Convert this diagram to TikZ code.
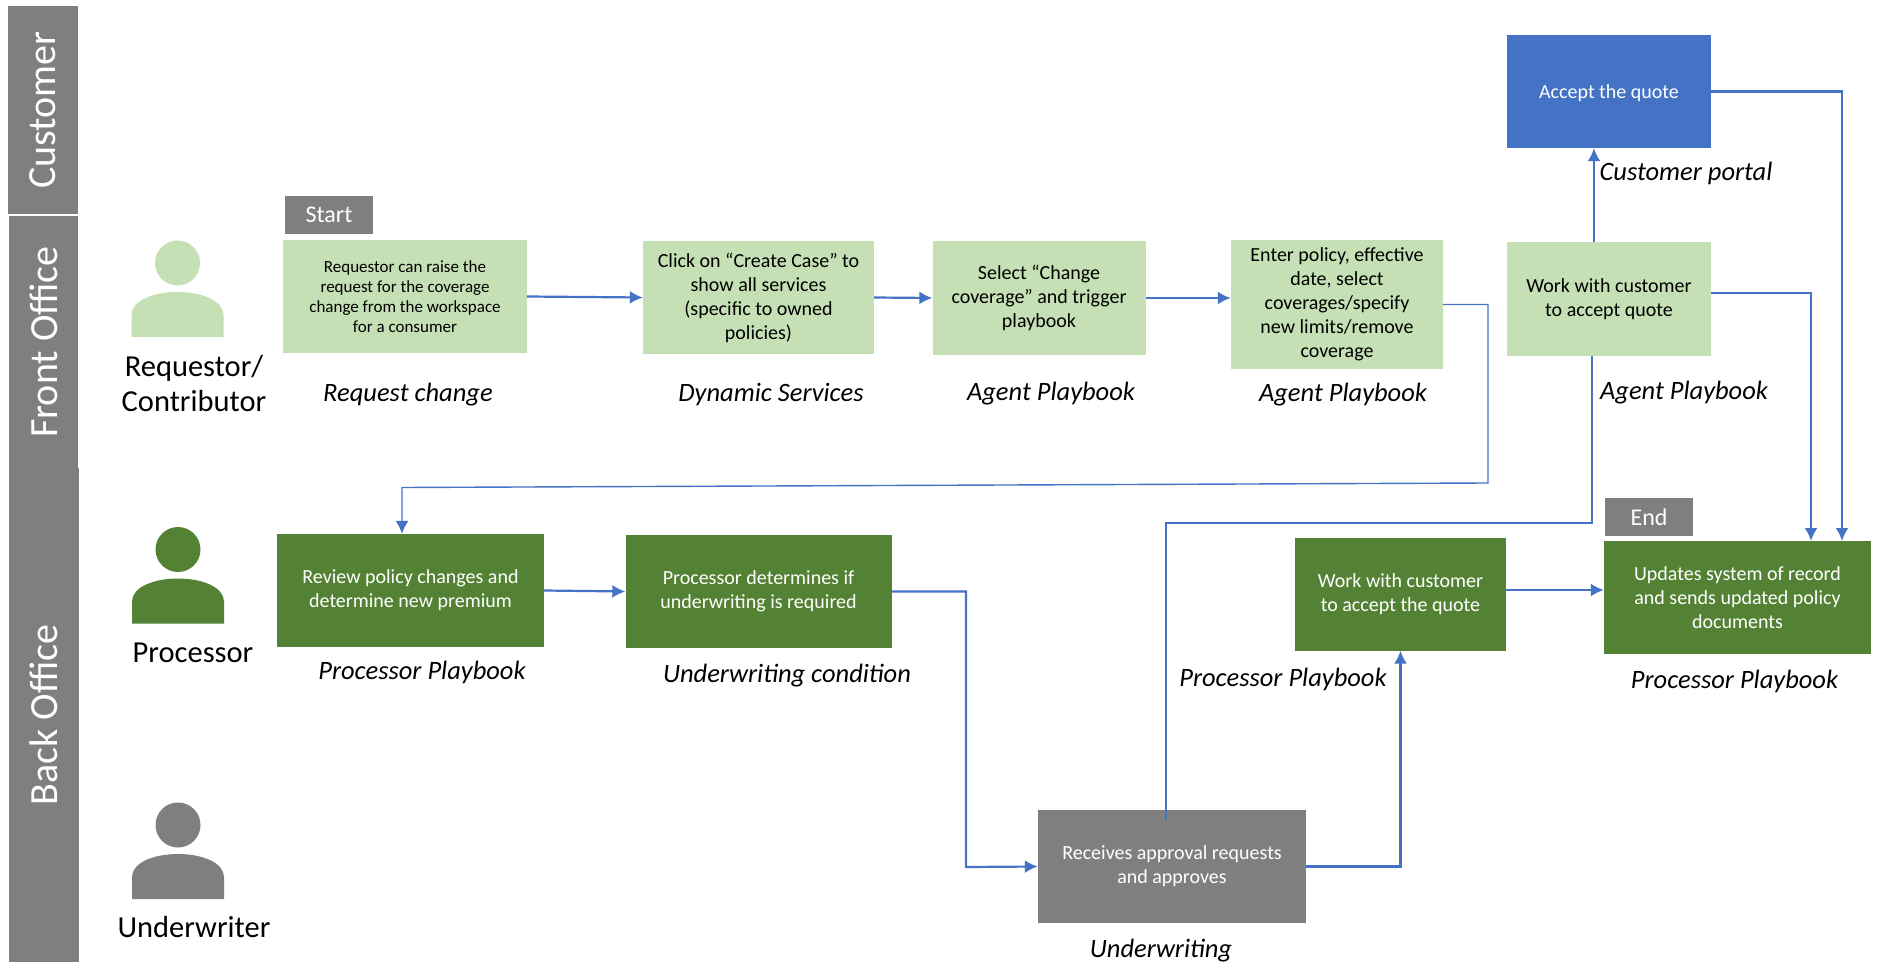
\documentclass[tikz,border=0pt]{standalone}
\usepackage{fontspec}
\setmainfont{Carlito}
\usepackage{tikz}
\usetikzlibrary{arrows.meta}

\definecolor{lightgrn}{HTML}{C5E0B4}
\definecolor{darkgrn}{HTML}{548235}
\definecolor{midgray}{HTML}{7F7F7F}
\definecolor{linkblue}{HTML}{4472C4}

\tikzset{
  band/.style={shape=rectangle,fill=midgray,text=white,rotate=90,inner sep=0pt,
    font=\fontsize{40}{48}\selectfont},
  tag/.style={shape=rectangle,fill=midgray,text=white,inner sep=0pt,
    minimum width=88pt,minimum height=38pt,font=\fontsize{24}{28}\selectfont},
  box/.style={shape=rectangle,inner sep=0pt,align=center,minimum height=113pt,
    font=\fontsize{20}{24}\selectfont},
  lowered/.style={execute at begin node={\rule{0pt}{21pt}}},
  front/.style={box,lowered,fill=lightgrn,text=black},
  back/.style={box,lowered,fill=darkgrn,text=white},
  under/.style={box,lowered,fill=midgray,text=white},
  role/.style={align=center,inner sep=0pt,font=\fontsize{30.5}{35}\selectfont},
  tool/.style={inner sep=0pt,font=\fontsize{26.5}{30}\selectfont\itshape},
  link/.style={draw=linkblue,line width=2.2pt,>={Latex[length=13pt,width=13pt]}},
  thinlink/.style={link,line width=1.4pt}
}

\begin{document}
\begin{tikzpicture}[x=1pt,y=-1pt]
      \useasboundingbox (0,0) rectangle (1882,968);

      \node[band,minimum width=208pt,minimum height=70pt](Customer) at (43,110) {Customer};
      \node[band,minimum width=252pt,minimum height=69pt](FrontOffice) at (43.5,342) {Front Office};
      \node[band,minimum width=494pt,minimum height=70pt](BackOffice) at (44,715) {Back Office};

      % people
      \foreach \px/\py/\pcol in {177.5/263/lightgrn,178/549.5/darkgrn,178/825/midgray} {
        \fill[\pcol] (\px,\py) circle (22.5);
        \fill[\pcol] (\px-46,\py+74) -- (\px-46,\py+52)
          .. controls (\px-46,\py+38) and (\px-25,\py+29) .. (\px,\py+29)
          .. controls (\px+25,\py+29) and (\px+46,\py+38) .. (\px+46,\py+52)
          -- (\px+46,\py+74) -- cycle;
      }
      \node[role](Requestor) at (194,384) {Requestor/\\Contributor};
      \node[role](Processor) at (193,653) {Processor};
      \node[role](Underwriter) at (194,927) {Underwriter};

      \node[tag](Start) at (329,215) {Start};
      \node[tag](End) at (1649,517) {End};

      \node[box,fill=lightgrn,minimum width=244pt,font=\fontsize{17}{20}\selectfont](Req) at (405,296.5) {Requestor can raise the\\request for the coverage\\change from the workspace\\for a consumer};
      \node[front,minimum width=231pt](Create) at (758.5,297.5) {Click on “Create Case” to\\show all services\\(specific to owned\\policies)};
      \node[front,minimum width=213pt](Select) at (1039,298) {Select “Change\\coverage” and trigger\\playbook};
      \node[front,minimum width=212pt,minimum height=129pt](Enter) at (1337,304.5) {Enter policy, effective\\date, select\\coverages/specify\\new limits/remove\\coverage};
      \node[front,minimum width=204pt](Work) at (1609,299) {Work with customer\\to accept quote};
      \node[box,fill=linkblue,text=white,minimum width=204pt,execute at begin node={\rule{0pt}{18pt}}](Accept) at (1609,91.5) {Accept the quote};
      \node[back,minimum width=267pt](Review) at (410.5,590.5) {Review policy changes and\\determine new premium};
      \node[back,minimum width=266pt](Determine) at (758.5,591.5) {Processor determines if\\underwriting is required};
      \node[under,minimum width=268pt](Receives) at (1172,866.5) {Receives approval requests\\and approves};
      \node[back,minimum width=211pt](WorkQuote) at (1400.5,594) {Work with customer\\to accept the quote};
      \node[box,fill=darkgrn,text=white,minimum width=267pt](Updates) at (1737.5,597.5) {Updates system of record\\and sends updated policy\\documents};

      \node[tool](t1) at (408,394.5) {Request change};
      \node[tool](t2) at (771,394.5) {Dynamic Services};
      \node[tool](t3) at (1051,393.5) {Agent Playbook};
      \node[tool](t4) at (1343,394.5) {Agent Playbook};
      \node[tool](t5) at (1684,392.5) {Agent Playbook};
      \node[tool](t6) at (1686,173.5) {Customer portal};
      \node[tool](t7) at (422,672) {Processor Playbook};
      \node[tool](t8) at (787,676) {Underwriting condition};
      \node[tool](t9) at (1283,679) {Processor Playbook};
      \node[tool](t10) at (1734.5,681) {Processor Playbook};
      \node[tool](t11) at (1161,950.5) {Underwriting};

      \coordinate (c1) at (1488,483);
      \coordinate (c2) at (402,487.5);
      \coordinate (c3) at (1592,523);
      \coordinate (c4) at (1166,523);
      \coordinate (c5) at (1166,820);
      \coordinate (c6) at (1811,541);
      \coordinate (c7) at (1842,541);
      \coordinate (c8) at (966,867);

      \path (Req.east) edge[link,->] (Create.west);
      \path (Create.east) edge[link,->] (Select.west);
      \path (Select.east) edge[link,->] ([yshift=6.5pt]Enter.west);
      \path (Review.east) edge[link,->] (Determine.west);
      \path ([yshift=4pt]WorkQuote.east) edge[link,->] ([yshift=7.5pt]Updates.west);
      \path ([xshift=-15pt]Work.north) edge[link,->] ([xshift=-15pt]Accept.south);
      \draw [thinlink,->] (Enter.east) -| (c1) -- (c2) -- (c2 |- Review.north);
      \draw [link,->] ([yshift=6pt]Work.east) -| (c6);
      \draw [link,->] (Accept.east) -| (c7);
      \draw [link,->] (Determine.east) -| (c8) -- (Receives.west);
      \draw [link,->] (Receives.east) -| (WorkQuote.south);
      \draw [link] (c3 |- Work.south) -- (c3) -- (c4) -- (c5);
    \end{tikzpicture}
\end{document}
